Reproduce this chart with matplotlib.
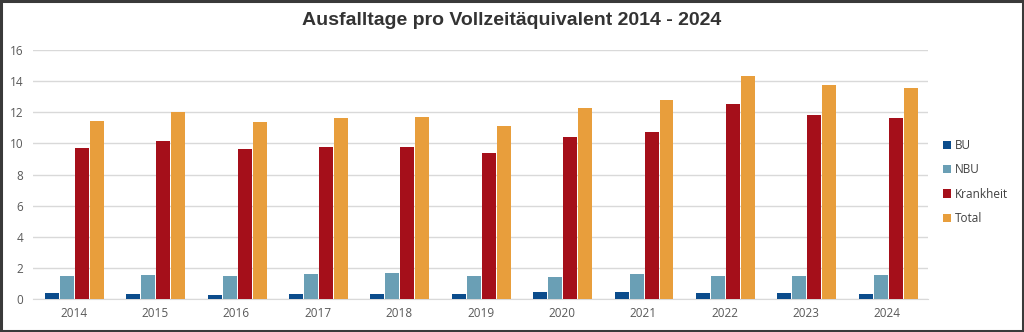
import matplotlib.pyplot as plt
import numpy as np
from matplotlib.patches import Rectangle

# Ausfalltage pro Vollzeitäquivalent
jahre = ["2014", "2015", "2016", "2017", "2018", "2019", "2020", "2021", "2022", "2023", "2024"]
bu = [0.40, 0.30, 0.25, 0.30, 0.30, 0.30, 0.45, 0.47, 0.39, 0.39, 0.30]
nbu = [1.50, 1.55, 1.45, 1.60, 1.65, 1.45, 1.40, 1.59, 1.46, 1.50, 1.56]
krankheit = [9.70, 10.15, 9.62, 9.75, 9.75, 9.35, 10.42, 10.73, 12.51, 11.85, 11.65]
total = [11.46, 12.04, 11.40, 11.65, 11.70, 11.12, 12.27, 12.77, 14.35, 13.75, 13.54]

reihen = ["BU", "NBU", "Krankheit", "Total"]
farben = ["#0b4c8c", "#6a9fb5", "#a50f1a", "#e89e3c"]
werte = [bu, nbu, krankheit, total]

fig = plt.figure(figsize=(10.24, 3.32), dpi=100)
ax = fig.add_axes([33 / 1024, 33 / 332, 895 / 1024, 249 / 332])

x = np.arange(len(jahre))
schritt = 0.184
breite = 0.172
for k, (name, farbe, w) in enumerate(zip(reihen, farben, werte)):
    ax.bar(x + (k - 1.5) * schritt + 0.01, w, breite, color=farbe, label=name, zorder=3)

ax.set_xlim(-0.5, len(jahre) - 0.5)
ax.set_ylim(0, 16)
ax.set_yticks(range(0, 17, 2))
ax.set_xticks(x)
ax.set_xticklabels(jahre)
ax.grid(axis="y", color="#d9d9d9", linewidth=1, zorder=0)
for s in ["top", "right", "left"]:
    ax.spines[s].set_visible(False)
ax.spines["bottom"].set_color("#d9d9d9")
ax.tick_params(length=0, labelsize=8.5, colors="#595959", pad=6)
for lbl in ax.get_xticklabels() + ax.get_yticklabels():
    lbl.set_fontfamily("Open Sans")
ax.tick_params(axis="y", pad=7)

fig.text(0.5, 0.937, "Ausfalltage pro Vollzeitäquivalent 2014 - 2024", ha="center", va="center",
         fontsize=14, fontweight="bold", color="#333333", family="Liberation Sans")

leg = ax.legend(loc="center left", bbox_to_anchor=(1.005, 0.47), frameon=False,
                handlelength=0.7, handleheight=0.7, handletextpad=0.3, labelspacing=0.95,
                prop={"family": "Open Sans", "size": 8.5})
for t in leg.get_texts():
    t.set_color("#404040")

# dunkler Rahmen um die ganze Grafik
fig.patches.append(Rectangle((0.001, 0.002), 0.998, 0.996, transform=fig.transFigure,
                             fill=False, edgecolor="#3a3a3a", linewidth=2.2))

fig.savefig("out.png", dpi=100)
